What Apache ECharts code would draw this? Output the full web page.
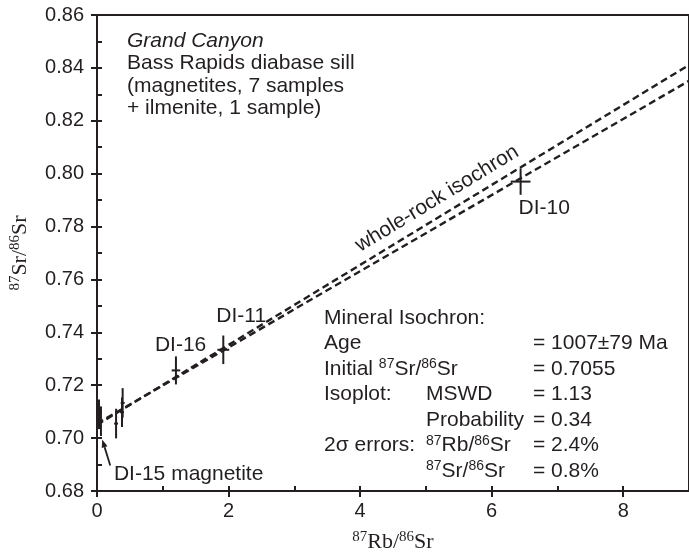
<!DOCTYPE html>
<html><head><meta charset="utf-8">
<script src="https://cdn.jsdelivr.net/npm/echarts@6/dist/echarts.min.js"></script>
<style>html,body{margin:0;padding:0;background:#fff}#c{width:689px;height:558px}</style>
</head><body><div id="c"></div>
<script>
// ---------- data ----------
const rbSr      = [0.03, 0.06, 0.29, 0.38, 0.39, 1.20, 1.92, 6.44];        // 87Rb/86Sr
const srSr      = [0.7090, 0.7064, 0.7055, 0.7098, 0.7133, 0.7256, 0.7334, 0.7970]; // 87Sr/86Sr
const rbSrErr   = [0.03, 0.03, 0.03, 0.03, 0.03, 0.065, 0.09, 0.15];
const srSrErr   = [0.0056, 0.0056, 0.0056, 0.0056, 0.0056, 0.0053, 0.0054, 0.0050];
const pointLabels = ['', 'DI-15 magnetite', '', '', '', 'DI-16', 'DI-11', 'DI-10'];

const isoX       = [0, 9];
const wholeRockY = [0.7050, 0.8411];
const mineralY   = [0.7055, 0.8351];

const xMin = 0, xMax = 9, xStep = 2;
const yMin = 0.68, yMax = 0.86, yStep = 0.02;

const headerLines = ['Bass Rapids diabase sill', '(magnetites, 7 samples', '+ ilmenite, 1 sample)'];
const headerTitle = 'Grand Canyon';

const infoRows = [
  ['Mineral Isochron:', '', ''],
  ['Age', '', '= 1007\u00b179 Ma'],
  ['Initial {s|87}Sr/{s|86}Sr', '', '= 0.7055'],
  ['Isoplot:', 'MSWD', '= 1.13'],
  ['', 'Probability', '= 0.34'],
  ['2\u03c3 errors:', '{s|87}Rb/{s|86}Sr', '= 2.4%'],
  ['', '{s|87}Sr/{s|86}Sr', '= 0.8%']
];

// ---------- styling ----------
const INK = '#231f20';
const SANS = "'Liberation Sans', Arial, Helvetica, sans-serif";
const SERIF = "'Liberation Serif', 'Times New Roman', serif";
const FS = 21;

const chart = echarts.init(document.getElementById('c'));

const points = rbSr.map((x, i) => [x, srSr[i], rbSrErr[i], srSrErr[i]]);

const serifRich = {
  n: {fontFamily: SERIF, fontSize: 22, color: INK, lineHeight: 24},
  s: {fontFamily: SERIF, fontSize: 15, color: INK, lineHeight: 15, verticalAlign: 'top'}
};

const option = {
  animation: false,
  backgroundColor: '#fff',
  grid: {left: 95, top: 15, width: 598.5, height: 478.3, show: true,
         borderColor: INK, borderWidth: 2, backgroundColor: 'transparent'},
  xAxis: [
    {type: 'value', min: xMin, max: xMax, interval: xStep, position: 'bottom',
     axisLine: {show: true, onZero: false, lineStyle: {color: INK, width: 2}},
     axisTick: {show: true, inside: false, length: 6, lineStyle: {color: INK, width: 2}},
     axisLabel: {margin: 10, fontSize: 20, color: INK, fontFamily: SANS, showMaxLabel: false},
     splitLine: {show: false},
     name: '{s|87}{n|Rb/}{s|86}{n|Sr}', nameLocation: 'middle', nameGap: 39,
     nameTextStyle: {rich: serifRich}},
    {type: 'value', min: xMin, max: xMax, interval: xStep / 2, position: 'bottom',
     axisLine: {show: false}, axisLabel: {show: false}, splitLine: {show: false},
     axisTick: {show: true, inside: true, length: 5, lineStyle: {color: INK, width: 2}}}
  ],
  yAxis: [
    {type: 'value', min: yMin, max: yMax, interval: yStep, position: 'left',
     axisLine: {show: true, onZero: false, lineStyle: {color: INK, width: 2}},
     axisTick: {show: true, inside: false, length: 6, lineStyle: {color: INK, width: 2}},
     axisLabel: {margin: 13, fontSize: 20, color: INK, fontFamily: SANS,
                 formatter: v => v.toFixed(2)},
     splitLine: {show: false},
     name: '{s|87}{n|Sr/}{s|86}{n|Sr}', nameLocation: 'middle', nameGap: 65,
     nameTextStyle: {rich: serifRich}},
    {type: 'value', min: yMin, max: yMax, interval: yStep / 2, position: 'left',
     axisLine: {show: false}, axisLabel: {show: false}, splitLine: {show: false},
     axisTick: {show: true, inside: true, length: 5, lineStyle: {color: INK, width: 2}}}
  ],
  series: [
    {type: 'line', name: 'whole-rock isochron', xAxisIndex: 0, yAxisIndex: 0,
     data: isoX.map((x, i) => [x, wholeRockY[i]]), symbol: 'none', silent: true,
     lineStyle: {color: INK, width: 2.4, type: [7, 4]}, z: 2},
    {type: 'line', name: 'mineral isochron', xAxisIndex: 0, yAxisIndex: 0,
     data: isoX.map((x, i) => [x, mineralY[i]]), symbol: 'none', silent: true,
     lineStyle: {color: INK, width: 2.4, type: [7, 4]}, z: 2},
    {type: 'custom', name: 'samples', xAxisIndex: 0, yAxisIndex: 0, data: points,
     encode: {x: 0, y: 1}, clip: false, z: 5,
     renderItem: (params, api) => {
       const x = api.value(0), y = api.value(1), ex = api.value(2), ey = api.value(3);
       const a = api.coord([x - ex, y]), b = api.coord([x + ex, y]);
       const c = api.coord([x, y - ey]), d = api.coord([x, y + ey]);
       const st = {stroke: INK, lineWidth: 2};
       return {type: 'group', children: [
         {type: 'line', shape: {x1: a[0], y1: a[1], x2: b[0], y2: b[1]}, style: st},
         {type: 'line', shape: {x1: c[0], y1: c[1], x2: d[0], y2: d[1]}, style: st}
       ]};
     }}
  ]
};
chart.setOption(option);

// ---------- annotations ----------
const px = (x, y) => chart.convertToPixel({xAxisIndex: 0, yAxisIndex: 0}, [x, y]);
const sansRich = {s: {fontFamily: SANS, fontSize: 14, color: INK, lineHeight: 15, verticalAlign: 'top'}};
function txt(x, y, text, extra) {
  return Object.assign({type: 'text', x: x, y: y, silent: true, z: 10,
    style: Object.assign({text: text, fill: INK, fontFamily: SANS, fontSize: FS,
      align: 'left', verticalAlign: 'middle', rich: sansRich, lineHeight: 23}, (extra && extra.style) || {})},
    extra && extra.el || {});
}
const graphics = [];

// header block
graphics.push(txt(127, 41, headerTitle, {style: {fontStyle: 'italic'}}));
headerLines.forEach((t, i) => graphics.push(txt(127, 63.5 + i * 22.6, t)));

// info block
const colX = [324, 426, 533];
infoRows.forEach((row, r) => {
  row.forEach((t, c) => { if (t) graphics.push(txt(colX[c], 318 + r * 25.5, t)); });
});

// point labels (offsets relative to each point)
const labelOffsets = {1: [13, 53], 5: [-21, -25], 6: [-7, -33.5], 7: [-2, 27]};
pointLabels.forEach((lab, i) => {
  if (!lab) return;
  const p = px(rbSr[i], srSr[i]);
  const o = labelOffsets[i];
  graphics.push(txt(p[0] + o[0], p[1] + o[1], lab));
});

// arrow to DI-15 magnetite
(function () {
  const p = px(rbSr[1], srSr[1]);
  const tip = [p[0] + 1.3, p[1] + 18.3], tail = [p[0] + 9.3, p[1] + 44.3];
  const dx = tip[0] - tail[0], dy = tip[1] - tail[1], L = Math.hypot(dx, dy);
  const u = [dx / L, dy / L], n = [-u[1], u[0]];
  const hl = 8, hw = 3;
  const base = [tip[0] - u[0] * hl, tip[1] - u[1] * hl];
  graphics.push({type: 'polyline', silent: true, z: 10, shape: {points: [tail, base]},
                 style: {stroke: INK, lineWidth: 1.8}});
  graphics.push({type: 'polygon', silent: true, z: 10,
    shape: {points: [tip, [base[0] + n[0] * hw, base[1] + n[1] * hw], [base[0] - n[0] * hw, base[1] - n[1] * hw]]},
    style: {fill: INK}});
})();

// whole-rock isochron label along the line
(function () {
  const p0 = px(isoX[0], wholeRockY[0]), p1 = px(isoX[1], wholeRockY[1]);
  const ang = Math.atan2(p0[1] - p1[1], p1[0] - p0[0]);
  const xs = 5.17;
  const ys = wholeRockY[0] + (wholeRockY[1] - wholeRockY[0]) * (xs - isoX[0]) / (isoX[1] - isoX[0]);
  const a = px(xs, ys);
  graphics.push(txt(a[0], a[1] - 19.5, 'whole-rock isochron',
    {style: {align: 'center'}, el: {rotation: ang}}));
})();

chart.setOption({graphic: graphics});
</script>
</body></html>
